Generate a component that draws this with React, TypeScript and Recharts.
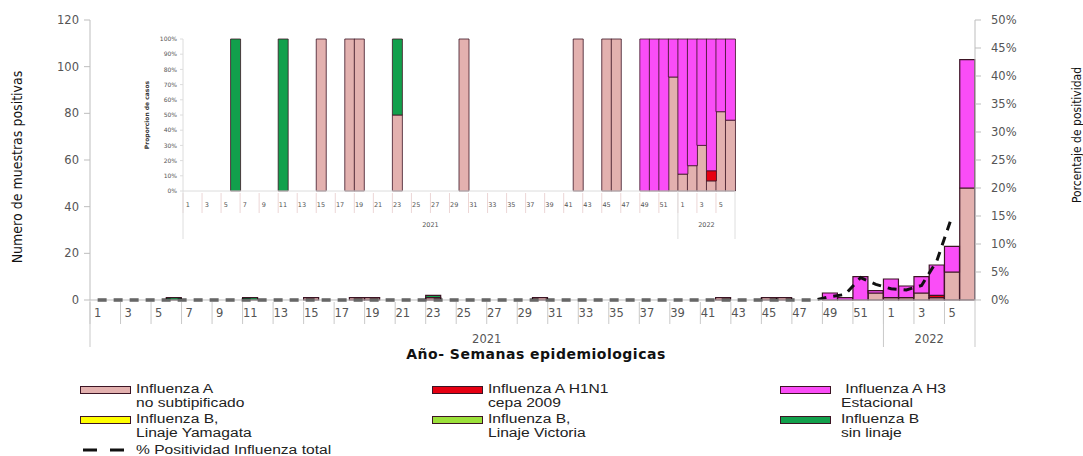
import { Bar, BarChart, ComposedChart, Line, XAxis, YAxis } from "recharts";

// semanas epidemiologicas: 52 de 2021 + 6 de 2022
const weeks = [
  1, 2, 3, 4, 5, 6, 7, 8, 9, 10, 11, 12, 13, 14, 15, 16, 17, 18, 19, 20, 21, 22, 23, 24, 25, 26,
  27, 28, 29, 30, 31, 32, 33, 34, 35, 36, 37, 38, 39, 40, 41, 42, 43, 44, 45, 46, 47, 48, 49, 50, 51, 52,
  1, 2, 3, 4, 5, 6,
];
const years = ["2021", "2022"];
const weeksPerYear = [52, 6];

const fluANoSub = [
  0, 0, 0, 0, 0, 0, 0, 0, 0, 0, 0, 0, 0, 0, 1, 0, 0, 1, 1, 0, 0, 0, 1, 0, 0, 0,
  0, 0, 0, 1, 0, 0, 0, 0, 0, 0, 0, 0, 0, 0, 0, 1, 0, 0, 1, 1, 0, 0, 0, 0, 0, 3,
  1, 1, 3, 1, 12, 48,
];
const fluAH1N1 = [
  0, 0, 0, 0, 0, 0, 0, 0, 0, 0, 0, 0, 0, 0, 0, 0, 0, 0, 0, 0, 0, 0, 0, 0, 0, 0,
  0, 0, 0, 0, 0, 0, 0, 0, 0, 0, 0, 0, 0, 0, 0, 0, 0, 0, 0, 0, 0, 0, 0, 0, 0, 0,
  0, 0, 0, 1, 0, 0,
];
const fluAH3 = [
  0, 0, 0, 0, 0, 0, 0, 0, 0, 0, 0, 0, 0, 0, 0, 0, 0, 0, 0, 0, 0, 0, 0, 0, 0, 0,
  0, 0, 0, 0, 0, 0, 0, 0, 0, 0, 0, 0, 0, 0, 0, 0, 0, 0, 0, 0, 0, 0, 3, 1, 10, 1,
  8, 5, 7, 13, 11, 55,
];
const fluBYamagata = [
  0, 0, 0, 0, 0, 0, 0, 0, 0, 0, 0, 0, 0, 0, 0, 0, 0, 0, 0, 0, 0, 0, 0, 0, 0, 0,
  0, 0, 0, 0, 0, 0, 0, 0, 0, 0, 0, 0, 0, 0, 0, 0, 0, 0, 0, 0, 0, 0, 0, 0, 0, 0,
  0, 0, 0, 0, 0, 0,
];
const fluBVictoria = [
  0, 0, 0, 0, 0, 0, 0, 0, 0, 0, 0, 0, 0, 0, 0, 0, 0, 0, 0, 0, 0, 0, 0, 0, 0, 0,
  0, 0, 0, 0, 0, 0, 0, 0, 0, 0, 0, 0, 0, 0, 0, 0, 0, 0, 0, 0, 0, 0, 0, 0, 0, 0,
  0, 0, 0, 0, 0, 0,
];
const fluBSinLinaje = [
  0, 0, 0, 0, 0, 1, 0, 0, 0, 0, 1, 0, 0, 0, 0, 0, 0, 0, 0, 0, 0, 0, 1, 0, 0, 0,
  0, 0, 0, 0, 0, 0, 0, 0, 0, 0, 0, 0, 0, 0, 0, 0, 0, 0, 0, 0, 0, 0, 0, 0, 0, 0,
  0, 0, 0, 0, 0, 0,
];
// % positividad influenza total
const positividad = [
  0, 0, 0, 0, 0, 0, 0, 0, 0, 0, 0, 0, 0, 0, 0, 0, 0, 0, 0, 0, 0, 0, 0, 0, 0, 0,
  0, 0, 0, 0, 0, 0, 0, 0, 0, 0, 0, 0, 0, 0, 0, 0, 0, 0, 0, 0, 0, 0, 0.6, 1, 4, 2.8,
  2, 1.8, 2.6, 7, 15, null,
];

const COLORS = {
  aNoSub: "#E3B1AF",
  h1n1: "#E60012",
  h3: "#FA4DF7",
  yamagata: "#FFFF00",
  victoria: "#9BE03A",
  sinLinaje: "#12A04C",
};
const EDGE = "#3c1424";

const series = [
  { key: "aNoSub", label: ["Influenza A", "no subtipificado"], values: fluANoSub },
  { key: "h1n1", label: ["Influenza A H1N1", "cepa 2009"], values: fluAH1N1 },
  { key: "h3", label: [" Influenza A H3", "Estacional"], values: fluAH3 },
  { key: "yamagata", label: ["Influenza B,", "Linaje Yamagata"], values: fluBYamagata },
  { key: "victoria", label: ["Influenza B,", "Linaje Victoria"], values: fluBVictoria },
  { key: "sinLinaje", label: ["Influenza B", "sin linaje"], values: fluBSinLinaje },
];

const yearOf = (i: number) => (i < weeksPerYear[0] ? 0 : 1);

const data = weeks.map((w, i) => {
  const row: Record<string, any> = { id: `${years[yearOf(i)]}-${w}`, pos: positividad[i] };
  series.forEach((s) => (row[s.key] = s.values[i]));
  return row;
});

const yearStarts = weeksPerYear.map((_, g) =>
  weeksPerYear.slice(0, g).reduce((a, b) => a + b, 0)
);

const W = 1083;
const H = 456;
const MAIN = { left: 90, right: 975, top: 20, bottom: 300 };
const INSET = { left: 183, right: 735, top: 39, bottom: 191 };

const AXIS_FONT = "'DejaVu Sans', Verdana, sans-serif";
const TEXT_COLOR = "#555";

function makeTick(box: typeof MAIN, o: {
  labelDy: number; tickLen: number; yearDy: number; sepLen: number;
  fontSize: number; yearFont: number; tickColor: string; sepColor: string;
}) {
  const band = (box.right - box.left) / weeks.length;
  return (props: any) => {
    const { x, index } = props;
    const w = weeks[index];
    const b = box.bottom;
    const g = yearStarts.indexOf(index);
    return (
      <g>
        {w % 2 === 1 && (
          <>
            <line x1={x - band / 2} x2={x - band / 2} y1={b + 2} y2={b + o.tickLen} stroke={o.tickColor} />
            <text x={x} y={b + o.labelDy} textAnchor="middle" fontSize={o.fontSize} fill={TEXT_COLOR} fontFamily={AXIS_FONT}>
              {w}
            </text>
          </>
        )}
        {g >= 0 && (
          <>
            <line x1={x - band / 2} x2={x - band / 2} y1={b} y2={b + o.sepLen} stroke={o.sepColor} />
            <text
              x={x - band / 2 + (weeksPerYear[g] * band) / 2}
              y={b + o.yearDy}
              textAnchor="middle"
              fontSize={o.yearFont}
              fill={TEXT_COLOR}
              fontFamily={AXIS_FONT}
            >
              {years[g]}
            </text>
          </>
        )}
        {index === weeks.length - 1 && (
          <line x1={x + band / 2} x2={x + band / 2} y1={b} y2={b + o.sepLen} stroke={o.sepColor} />
        )}
      </g>
    );
  };
}

const mainTick = makeTick(MAIN, {
  labelDy: 17, tickLen: 24, yearDy: 43, sepLen: 47, fontSize: 11.5, yearFont: 11.5,
  tickColor: "#c9c9c9", sepColor: "#c9c9c9",
});
const insetTick = makeTick(INSET, {
  labelDy: 15.5, tickLen: 22, yearDy: 36, sepLen: 48, fontSize: 6.5, yearFont: 6.5,
  tickColor: "#ecd6d6", sepColor: "#dedede",
});

const legendCols = [80, 432, 780];
const legendTextX = [136, 488, 841];
const legendRows = [390, 420];

const legendText = {
  position: "absolute" as const,
  fontSize: 12,
  lineHeight: "14px",
  fontFamily: "'Liberation Sans', Arial, sans-serif",
  color: "#222",
  whiteSpace: "pre" as const,
  transform: "scaleX(1.3)",
  transformOrigin: "left center",
};

export default function App() {
  return (
    <div style={{ position: "absolute", left: 0, top: 0, width: W, height: H, background: "#fff" }}>
      <div style={{ position: "absolute", left: 0, top: 0 }}>
        <ComposedChart
          width={W}
          height={H}
          data={data}
          barCategoryGap={0}
          barGap={0}
          margin={{ top: MAIN.top, left: MAIN.left - 60, right: W - MAIN.right - 60, bottom: H - MAIN.bottom - 30 }}
        >
          <XAxis dataKey="id" interval={0} height={30} tickLine={false} stroke="#bdbdbd" tick={mainTick} />
          <YAxis
            yAxisId="left"
            width={60}
            domain={[0, 120]}
            ticks={[0, 20, 40, 60, 80, 100, 120]}
            stroke="#bdbdbd"
            tickSize={6}
            tickMargin={5}
            tick={{ fontSize: 11.5, fill: TEXT_COLOR, fontFamily: AXIS_FONT }}
          />
          <YAxis
            yAxisId="right"
            orientation="right"
            width={60}
            domain={[0, 50]}
            ticks={[0, 5, 10, 15, 20, 25, 30, 35, 40, 45, 50]}
            tickFormatter={(v) => `${v}%`}
            stroke="#bdbdbd"
            tickSize={6}
            tickMargin={10}
            tick={{ fontSize: 11.5, fill: TEXT_COLOR, fontFamily: AXIS_FONT, textAnchor: "start" }}
          />
          {series.map((s) => (
            <Bar
              key={s.key}
              yAxisId="left"
              dataKey={s.key}
              stackId="m"
              fill={COLORS[s.key as keyof typeof COLORS]}
              stroke={EDGE}
              strokeWidth={1.2}
              isAnimationActive={false}
            />
          ))}
          <Line
            yAxisId="right"
            dataKey="pos"
            stroke="#111"
            strokeWidth={3}
            strokeDasharray="9 7"
            dot={false}
            isAnimationActive={false}
          />
        </ComposedChart>
      </div>

      {/* grafico insertado: proporcion de casos */}
      <div style={{ position: "absolute", left: 0, top: 0, pointerEvents: "none" }}>
        <BarChart
          width={W}
          height={H}
          data={data}
          stackOffset="expand"
          barCategoryGap={0}
          barGap={0}
          margin={{ top: INSET.top, left: INSET.left - 40, right: W - INSET.right, bottom: H - INSET.bottom - 40 }}
        >
          <XAxis dataKey="id" interval={0} height={40} tickLine={false} stroke="#dcdcdc" tick={insetTick} />
          <YAxis
            width={40}
            domain={[0, 1]}
            ticks={[0, 0.1, 0.2, 0.3, 0.4, 0.5, 0.6, 0.7, 0.8, 0.9, 1]}
            tickFormatter={(v) => `${Math.round(v * 100)}%`}
            stroke="#dcdcdc"
            tickSize={3}
            tickMargin={3}
            tick={{ fontSize: 6, fill: TEXT_COLOR, fontFamily: AXIS_FONT }}
          />
          {series.map((s) => (
            <Bar
              key={s.key}
              dataKey={s.key}
              stackId="i"
              fill={COLORS[s.key as keyof typeof COLORS]}
              stroke={EDGE}
              strokeWidth={0.8}
              isAnimationActive={false}
            />
          ))}
        </BarChart>
      </div>

      <svg width={W} height={H} style={{ position: "absolute", left: 0, top: 0, pointerEvents: "none" }}>
        <text
          transform="translate(22,167) rotate(-90)"
          textAnchor="middle"
          fontSize={14}
          fontFamily="'DejaVu Sans Condensed', 'Liberation Sans Narrow', sans-serif"
          fill="#111"
        >
          Numero de muestras positivas
        </text>
        <text
          transform="translate(1081,135) rotate(-90)"
          textAnchor="middle"
          fontSize={12}
          fontFamily="'DejaVu Sans Condensed', 'Liberation Sans Narrow', sans-serif"
          fill="#111"
        >
          Porcentaje de positividad
        </text>
        <text
          transform="translate(149,115) rotate(-90)"
          textAnchor="middle"
          fontSize={6}
          fontWeight="bold"
          fontFamily={AXIS_FONT}
          fill="#333"
        >
          Proporcion de casos
        </text>
        <text
          x={536}
          y={359}
          textAnchor="middle"
          fontSize={14}
          letterSpacing={0.5}
          fontWeight="bold"
          fontFamily={AXIS_FONT}
          fill="#111"
        >
          Año- Semanas epidemiologicas
        </text>
        <line x1={83} x2={97} y1={450} y2={450} stroke="#111" strokeWidth={3} />
        <line x1={110} x2={124} y1={450} y2={450} stroke="#111" strokeWidth={3} />
      </svg>

      {series.map((s, k) => {
        const col = k % 3;
        const row = Math.floor(k / 3);
        const y = legendRows[row];
        return (
          <div key={s.key}>
            <div
              style={{
                position: "absolute",
                left: legendCols[col],
                top: y - 4,
                width: 49,
                height: 6,
                background: COLORS[s.key as keyof typeof COLORS],
                border: `1.5px solid ${EDGE}`,
              }}
            />
            {s.label.map((t, j) => (
              <div key={j} style={{ ...legendText, left: legendTextX[col], top: y - 8 + j * 14 }}>
                {t}
              </div>
            ))}
          </div>
        );
      })}
      <div style={{ ...legendText, left: 136, top: 443 }}>% Positividad Influenza total</div>
    </div>
  );
}
